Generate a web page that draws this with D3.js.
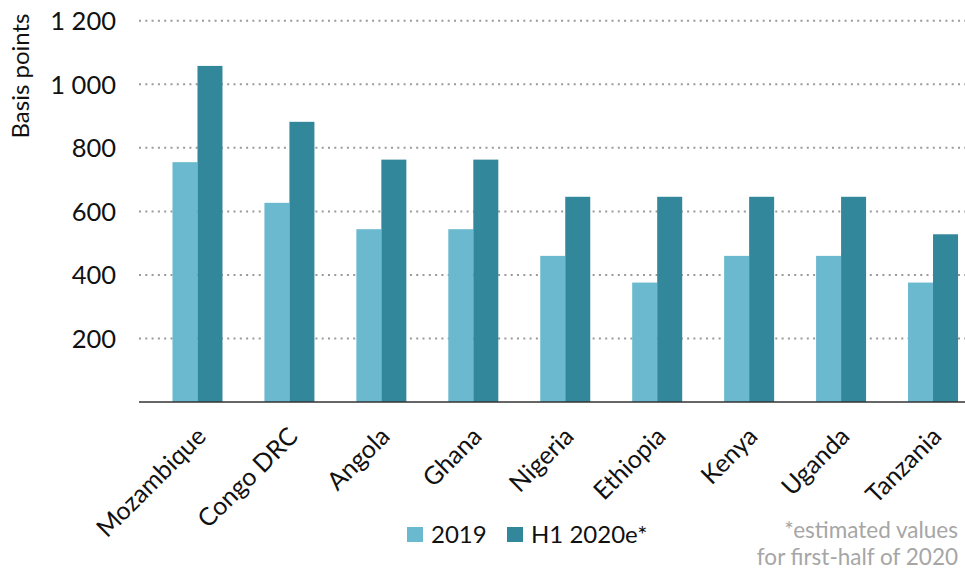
<!DOCTYPE html>
<html>
<head>
<meta charset="utf-8">
<script src="https://cdn.jsdelivr.net/npm/d3@7"></script>
<style>
  body { margin: 0; background: #fff; }
  text { font-family: Lato, "Open Sans", sans-serif; }
</style>
</head>
<body>
<svg id="mainsvg" width="965" height="570"></svg>
<script>
// data
const countries = ['Mozambique', 'Congo DRC', 'Angola', 'Ghana', 'Nigeria',
                   'Ethiopia', 'Kenya', 'Uganda', 'Tanzania'];
const series = ['2019', 'H1 2020e*'];
const values2019 = [755, 627, 544, 544, 460, 376, 460, 460, 376];
const valuesH1 = [1058, 882, 763, 763, 646, 646, 646, 646, 528];
const yTicks = [200, 400, 600, 800, 1000, 1200];

const colors = ['#6bb9cf', '#32879b'];

var svg = d3.select('#mainsvg');

var plotLeft = 139, plotRight = 965,
    yTop = 20.8, yBottom = 402;

var data = countries.map((c, i) => ({country: c, vals: [values2019[i], valuesH1[i]]}));

var x0 = d3.scaleBand()
    .domain(countries)
    .range([151.5, 979])
    .padding(0);

var x1 = d3.scaleBand()
    .domain(series)
    .range([x0.bandwidth() / 2 - 25, x0.bandwidth() / 2 + 25])
    .padding(0);

var y = d3.scaleLinear()
    .domain([0, 1200])
    .range([yBottom, yTop]);

// gridlines
svg.append('g').selectAll('line')
    .data(yTicks)
    .enter().append('line')
    .attr('x1', plotLeft)
    .attr('x2', plotRight)
    .attr('y1', d => y(d))
    .attr('y2', d => y(d))
    .attr('stroke', '#9a9a9a')
    .attr('stroke-width', 2)
    .attr('stroke-dasharray', '2,4.3');

// y tick labels ("1 200" style, space as thousands separator)
svg.append('g').selectAll('text')
    .data(yTicks)
    .enter().append('text')
    .attr('x', 116)
    .attr('y', d => y(d))
    .attr('dy', '0.36em')
    .attr('text-anchor', 'end')
    .attr('font-size', 25.5)
    .attr('fill', '#111')
    .text(d => d3.format(',')(d).replace(',', ' '));

// bars
var groups = svg.append('g').selectAll('g')
    .data(data)
    .enter().append('g')
    .attr('transform', d => 'translate(' + x0(d.country) + ',0)');

groups.selectAll('rect')
    .data(d => d.vals.map((v, i) => ({s: series[i], v: v, i: i})))
    .enter().append('rect')
    .attr('x', d => x1(d.s))
    .attr('width', x1.bandwidth())
    .attr('y', d => y(d.v))
    .attr('height', d => y(0) - y(d.v))
    .attr('fill', d => colors[d.i]);

// x axis line
svg.append('line')
    .attr('x1', plotLeft)
    .attr('x2', plotRight)
    .attr('y1', yBottom)
    .attr('y2', yBottom)
    .attr('stroke', '#333')
    .attr('stroke-width', 1.5);

// x labels, rotated
svg.append('g').selectAll('text')
    .data(countries)
    .enter().append('text')
    .attr('transform', d => 'translate(' + (x0(d) + x0.bandwidth() / 2 + 10) + ',' + 438 + ') rotate(-45)')
    .attr('text-anchor', 'end')
    .attr('font-size', 25)
    .attr('fill', '#111')
    .text(d => d);

// y axis title
svg.append('text')
    .attr('transform', 'translate(29,76) rotate(-90)')
    .attr('text-anchor', 'middle')
    .attr('font-size', 24)
    .attr('fill', '#111')
    .text('Basis points');

// legend
var legend = svg.append('g');
var legX = [407, 507];
series.forEach(function(s, i) {
    legend.append('rect')
        .attr('x', legX[i]).attr('y', 527)
        .attr('width', 16).attr('height', 15)
        .attr('fill', colors[i]);
    legend.append('text')
        .attr('x', legX[i] + 24).attr('y', 543)
        .attr('font-size', 24)
        .attr('fill', '#111')
        .text(s);
});

// note
svg.append('text')
    .attr('x', 958).attr('y', 538)
    .attr('text-anchor', 'end')
    .attr('font-size', 22.5)
    .attr('fill', '#a6a6a6')
    .text('*estimated values');
svg.append('text')
    .attr('x', 958).attr('y', 565)
    .attr('text-anchor', 'end')
    .attr('font-size', 22.5)
    .attr('fill', '#a6a6a6')
    .text('for first-half of 2020');
</script>
</body>
</html>
